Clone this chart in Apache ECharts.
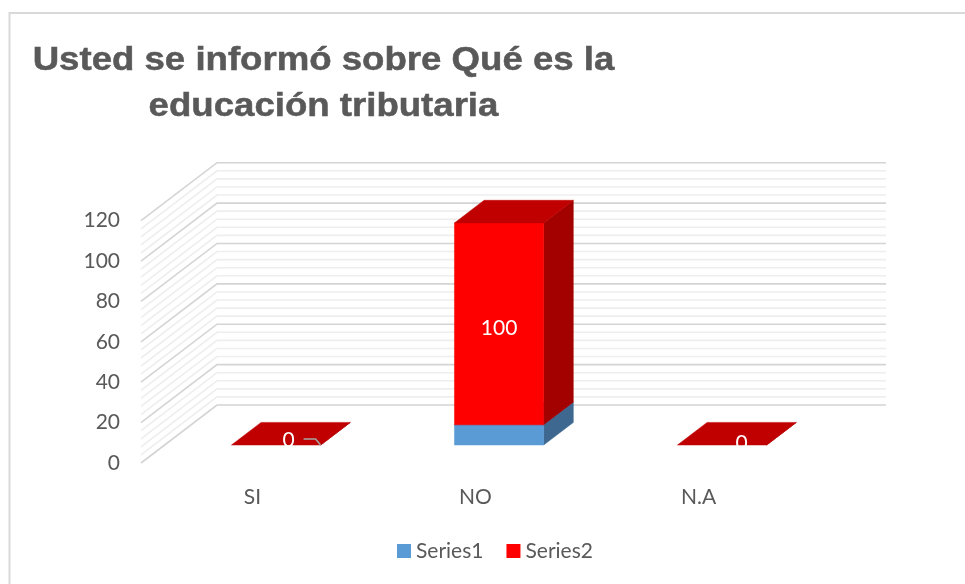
<!DOCTYPE html>
<html><head><meta charset="utf-8">
<style>html,body{margin:0;padding:0;background:#fff}#c{width:965px;height:584px}</style>
<script src="https://cdn.jsdelivr.net/npm/echarts@6/dist/echarts.min.js"></script>
</head><body><div id="c"></div>
<script>
const categories = ['SI', 'NO', 'N.A'];
const series1 = [0, 10, 0];
const series2 = [0, 100, 0];
const yTicks = [0, 20, 40, 60, 80, 100, 120];
const minorTicks = [4, 8, 12, 16, 24, 28, 32, 36, 44, 48, 52, 56, 64, 68, 72, 76, 84, 88, 92, 96, 104, 108, 112, 116];
const titleText = 'Usted se informó sobre Qué es la\neducación tributaria';

// 3D projection look
const WALL_DX = 76, WALL_DY = -58;
const BAR_START = 0.31, BAR_DEPTH = 0.39, BAR_FRAC = 0.4;
const labelNudge = [[12.5, 1], null, [19.5, 4.5]];
const FONT = 'Lato';

function wallRenderer(color) {
  return function (params, api) {
    const cs = params.coordSys;
    const y = api.coord([0, api.value(0)])[1];
    return {
      type: 'polyline', silent: true,
      shape: { points: [[cs.x, y], [cs.x + WALL_DX, y + WALL_DY], [cs.x + cs.width + WALL_DX, y + WALL_DY]] },
      style: { stroke: color, lineWidth: 1.6, fill: null }
    };
  };
}
function poly(points, fill) {
  return { type: 'polygon', shape: { points }, style: { fill, stroke: fill, lineWidth: 0.5 } };
}
function barRenderer(front, top, side, showLabel) {
  return function (params, api) {
    const i = api.value(0), base = api.value(1), val = api.value(2);
    const p0 = api.coord([i, base]), p1 = api.coord([i, base + val]);
    const w = api.size([1, 0])[0] * BAR_FRAC;
    const ox = WALL_DX * BAR_START, oy = WALL_DY * BAR_START;
    const dx = WALL_DX * BAR_DEPTH, dy = WALL_DY * BAR_DEPTH;
    const xl = p0[0] - w / 2 + ox, xr = xl + w, yb = p0[1] + oy, yt = p1[1] + oy;
    const ch = [];
    if (val > 0 || showLabel) {
      ch.push(poly([[xr, yb], [xr + dx, yb + dy], [xr + dx, yt + dy], [xr, yt]], side));
      if (val > 0) ch.push(poly([[xl, yb], [xr, yb], [xr, yt], [xl, yt]], front));
      ch.push(poly([[xl, yt], [xr, yt], [xr + dx, yt + dy], [xl + dx, yt + dy]], top));
    }
    if (showLabel) {
      const n = labelNudge[i] || [0, 3];
      const lx = (xl + xr) / 2 + n[0];
      const ly = val > 0 ? (yb + yt) / 2 + n[1] + 1 : yb - 6 + n[1];
      ch.push({ type: 'text', style: { text: String(val), x: lx, y: ly, fill: '#fff', font: '21px ' + FONT, align: 'center', verticalAlign: 'middle' } });
      if (i === 0) {
        ch.push({ type: 'polyline', shape: { points: [[lx + 15, yb - 6], [lx + 27, yb - 6], [lx + 32, yb]] }, style: { stroke: '#a6a6a6', lineWidth: 1.5, fill: null } });
      }
    }
    return { type: 'group', children: ch };
  };
}

const chart = echarts.init(document.getElementById('c'), null, { renderer: 'canvas' });
chart.setOption({
  animation: false,
  backgroundColor: '#fff',
  legend: {
    data: ['Series1', 'Series2'], left: 392, top: 535.5, icon: 'rect',
    itemWidth: 14, itemHeight: 14, itemGap: 23,
    textStyle: { fontFamily: FONT, fontSize: 21, color: '#595959' }
  },
  grid: { left: 141, top: 220.7, width: 669, height: 242.3, containLabel: false },
  xAxis: {
    type: 'category', data: categories,
    axisLine: { show: false }, axisTick: { show: false }, splitLine: { show: false },
    axisLabel: { fontFamily: FONT, fontSize: 21, color: '#595959', margin: 24 }
  },
  yAxis: {
    type: 'value', min: 0, max: 120, interval: 20,
    axisLine: { show: false }, axisTick: { show: false }, splitLine: { show: false },
    axisLabel: { fontFamily: FONT, fontSize: 21, color: '#595959', margin: 21, padding: [4, 0, 0, 0], formatter: v => yTicks.includes(v) ? String(v) : '' }
  },
  graphic: [{
    type: 'polyline', silent: true,
    shape: { points: [[9.5, 590], [9.5, 13], [970, 13]] },
    style: { stroke: '#d9d9d9', lineWidth: 2, fill: null }
  }, {
    type: 'text', silent: true, x: 323.5, y: 37.5, scaleX: 1.109,
    style: {
      text: titleText, align: 'center', fontFamily: 'Liberation Sans', fontWeight: 'bold', fontSize: 33,
      lineHeight: 46, fill: '#595959', stroke: '#595959', lineWidth: 0.5
    }
  }],
  series: [
    { type: 'custom', name: 'minor', silent: true, z: 1, clip: false, data: minorTicks.map(v => [v]), encode: { y: 0 }, renderItem: wallRenderer('#eeeeee') },
    { type: 'custom', name: 'major', silent: true, z: 2, clip: false, data: yTicks.map(v => [v]), encode: { y: 0 }, renderItem: wallRenderer('#d4d4d4') },
    {
      type: 'custom', name: 'Series1', z: 3, clip: false, itemStyle: { color: '#5b9bd5' },
      data: categories.map((c, i) => [i, 0, series1[i]]), encode: { x: 0, y: 2 },
      renderItem: barRenderer('#5b9bd5', '#4a7fb0', '#3e6890', false)
    },
    {
      type: 'custom', name: 'Series2', z: 4, clip: false, itemStyle: { color: '#ff0000' },
      data: categories.map((c, i) => [i, series1[i], series2[i]]), encode: { x: 0, y: 2 },
      renderItem: barRenderer('#ff0000', '#c00000', '#a30000', true)
    }
  ]
});
</script></body></html>
